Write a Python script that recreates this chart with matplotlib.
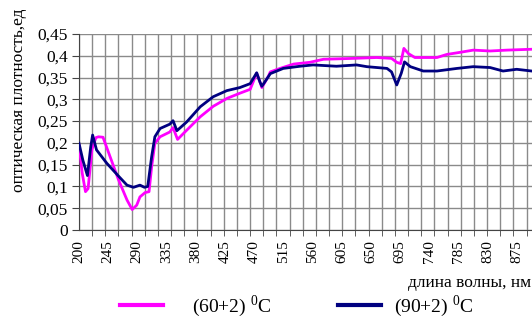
import numpy as np
import matplotlib
matplotlib.use("Agg")
import matplotlib.pyplot as plt
from matplotlib.lines import Line2D

plt.rcParams['font.family'] = ['Liberation Serif', 'DejaVu Serif']
plt.rcParams['mathtext.fontset'] = 'custom'
plt.rcParams['mathtext.rm'] = 'Liberation Serif'

# (60+2) C
wl_60 = [200, 205, 210, 214, 220, 226, 230, 237, 248, 261, 274, 282, 289, 294, 302, 308,
         312, 317, 325, 340, 345, 352, 366, 387, 407, 428, 448, 464, 474, 479, 482, 492,
         495, 510, 531, 556, 577, 623, 659, 682, 690, 696, 701, 708, 718, 752, 767, 788,
         808, 834, 860, 898]
od_60 = [0.195, 0.13, 0.088, 0.095, 0.185, 0.212, 0.214, 0.213, 0.168, 0.115, 0.069, 0.047,
         0.057, 0.076, 0.086, 0.088, 0.145, 0.199, 0.214, 0.225, 0.235, 0.208, 0.229, 0.26,
         0.284, 0.302, 0.314, 0.323, 0.36, 0.34, 0.327, 0.353, 0.363, 0.371, 0.381, 0.385,
         0.392, 0.394, 0.396, 0.394, 0.385, 0.382, 0.417, 0.405, 0.396, 0.396, 0.403, 0.408,
         0.413, 0.411, 0.413, 0.415]

# (90+2) C
wl_90 = [200, 206, 213, 218, 221, 227, 243, 262, 274, 284, 294, 301, 306, 312, 317, 325,
         340, 345, 351, 366, 387, 407, 428, 448, 464, 474, 479, 482, 492, 495, 515, 541,
         561, 597, 628, 644, 675, 682, 690, 697, 702, 711, 731, 752, 783, 808, 834, 854,
         875, 898]
od_90 = [0.199, 0.16, 0.125, 0.19, 0.218, 0.184, 0.153, 0.122, 0.103, 0.098, 0.103, 0.098,
         0.1, 0.168, 0.214, 0.233, 0.243, 0.251, 0.228, 0.248, 0.283, 0.306, 0.32, 0.327,
         0.336, 0.361, 0.34, 0.33, 0.352, 0.359, 0.371, 0.376, 0.379, 0.376, 0.379, 0.375,
         0.371, 0.363, 0.333, 0.36, 0.386, 0.375, 0.365, 0.365, 0.371, 0.375, 0.373, 0.365,
         0.369, 0.365]

labels = ['(60+2) $^0$C', '(90+2) $^0$C']
colors = ['#ff00ff', '#000080']

xticks = np.arange(200, 876, 45)
yticks = np.arange(0, 0.451, 0.05)
grid_x = np.arange(200, 900, 20.3)

fig = plt.figure(figsize=(5.32, 3.22), dpi=100)
ax = fig.add_axes([0.1485, 0.2857, 0.8515, 0.6087])

for x in grid_x:
    ax.axvline(x, color='#8a8a8a', lw=1.0, zorder=1)
for y in yticks:
    ax.axhline(y, color='#8a8a8a', lw=1.0, zorder=1)

ax.plot(wl_60, od_60, color=colors[0], lw=2.0, zorder=3)
ax.plot(wl_90, od_90, color=colors[1], lw=2.0, zorder=4)

ax.set_xlim(200, 898.6)
ax.set_ylim(0, 0.45)
ax.set_xticks(xticks)
ax.set_xticklabels([str(v) for v in xticks], rotation=90, fontsize=11)
ax.set_xticks(grid_x, minor=True)
ax.set_yticks(yticks)
ax.set_yticklabels(['0'] + [('%.2f' % v).rstrip('0').replace('.', ',') for v in yticks[1:]],
                   fontsize=12.5)
ax.tick_params(axis='x', which='major', length=0, pad=7)
ax.tick_params(axis='x', which='minor', length=4, color='#444444')
ax.tick_params(axis='y', length=5, color='#444444', pad=3)

for s in ['top', 'right']:
    ax.spines[s].set_visible(False)
for s in ['left', 'bottom']:
    ax.spines[s].set_color('#444444')

ax.set_ylabel('оптическая плотность,ед', fontsize=12.5)
ax.yaxis.set_label_coords(-0.115, 0.663)
fig.text(0.998, 0.121, 'длина волны, нм', ha='right', va='center', fontsize=12.5)

# legend: two separate entries placed like the original
h1 = [Line2D([], [], color=colors[0], lw=3)]
h2 = [Line2D([], [], color=colors[1], lw=3)]
fig.legend(h1, [labels[0]], loc='center left', bbox_to_anchor=(120 / 532, 0.05),
           frameon=False, fontsize=14, handlelength=2.2, handletextpad=1.5,
           borderpad=0, borderaxespad=0)
fig.legend(h2, [labels[1]], loc='center left', bbox_to_anchor=(338 / 532, 0.05),
           frameon=False, fontsize=14, handlelength=2.2, handletextpad=0.7,
           borderpad=0, borderaxespad=0)

fig.savefig('out.png', dpi=100)
